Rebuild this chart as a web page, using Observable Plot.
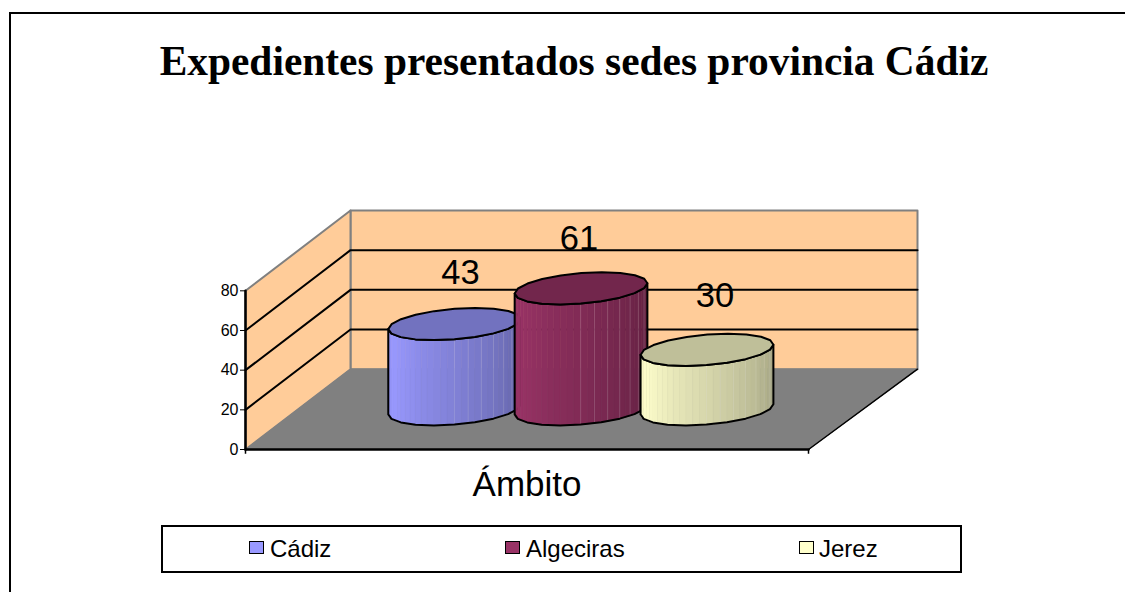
<!DOCTYPE html>
<html><head><meta charset="utf-8">
<script src="https://cdn.jsdelivr.net/npm/d3@7"></script>
<script src="https://cdn.jsdelivr.net/npm/@observablehq/plot@0.6"></script>
<style>
html,body{margin:0;padding:0;background:#fff;}
#page{position:relative;width:1125px;height:592px;overflow:hidden;}
#frame{position:absolute;left:9px;top:12px;width:1116px;height:580px;border-left:2px solid #000;border-top:2px solid #000;box-sizing:border-box;}
#title{position:absolute;left:0;top:37px;width:1148px;text-align:center;font:bold 41.4px "Liberation Serif",serif;color:#000;margin:0;}
#legend{position:absolute;left:161px;top:525px;width:801px;height:48px;border:2px solid #000;box-sizing:border-box;background:#fff;font:24px "Liberation Sans",sans-serif;color:#000;}
#legend i{position:absolute;top:14px;width:13px;height:11px;border:1.5px solid #000;display:block;}
#legend span{position:absolute;top:8px;white-space:nowrap;}
svg{position:absolute;left:0;top:0;}
</style></head><body>
<div id="page"><div id="frame"></div><h1 id="title"></h1><div id="chart"></div><div id="legend"></div></div>
<script>
const chartTitle = "Expedientes presentados sedes provincia Cádiz";
const categoryLabel = "Ámbito";
const seriesNames = ["Cádiz", "Algeciras", "Jerez"];
const seriesValues = [43, 61, 30];
const yTicks = [0, 20, 40, 60, 80];
const seriesColors = ["#9999FF", "#993366", "#FFFFCC"];
const topColors = ["#7272BF", "#72264C", "#BFBF99"];

// oblique chart box, in scale units
const W = 563, Dx = 105, Dy = 40.5, vMax = 80, spread = 0.0071;
const P = (u, d, v) => ({x: u * (1 + spread * d) + Dx * d, y: v + Dy * d});
const poly = (pts) => [...pts, pts[0]];
const backWall = poly([P(0,1,0), P(W,1,0), P(W,1,vMax), P(0,1,vMax)]);
const sideWall = poly([P(0,0,0), P(0,1,0), P(0,1,vMax), P(0,0,vMax)]);
const floor = poly([P(0,0,0), P(W,0,0), P(W,1,0), P(0,1,0)]);

const line = (pts, o) => Plot.line(pts, {x: "x", y: "y", ...o});
const marks = [
  line(backWall, {fill: "#FFCC99", stroke: "#808080", strokeWidth: 2}),
  line(sideWall, {fill: "#FFCC99", stroke: "#808080", strokeWidth: 2}),
  line(floor, {fill: "#808080", stroke: "#808080", strokeWidth: 1}),
  line([P(W,0,0), P(W,1,0)], {stroke: "#000", strokeWidth: 1.5}),
  line([P(0,0,0), P(W,0,0)], {stroke: "#000", strokeWidth: 2.5}),
  line([P(0,0,0), P(0,0,vMax)], {stroke: "#000", strokeWidth: 2.5}),
  Plot.ruleX([0, W], {x: d => d, y1: 0, y2: -2.4, stroke: "#000", strokeWidth: 1.5})
];
for (const v of yTicks.filter(t => t > 0 && t < vMax)) {
  marks.push(line([P(0,0,v), P(0,1,v), P(W,1,v)], {stroke: "#000", strokeWidth: 2}));
}

// cylinders
const rU = 62.6, rD = 0.2, baseD = 0.5, N = 30, facets = 20;
const centers = [W / 2 - 125.5, W / 2 + 0.5, W / 2 + 126];
const shade = (c, k) => { const r = d3.rgb(c); return d3.rgb(r.r*k, r.g*k, r.b*k).formatHex(); };
seriesValues.forEach((value, s) => {
  const u = centers[s];
  const ring = (v, t) => P(u + rU * Math.cos(t), baseD + rD * Math.sin(t), v);
  const tipAngle = Math.atan2(Dx * rD, rU);
  const ang = (i, n) => Math.PI + tipAngle + (Math.PI * i) / n;
  const strips = [];
  for (let i = 0; i < N; i++) {
    const k = (i + 0.5) / N;
    const c = shade(seriesColors[s], k < 0.12 ? 0.9 + k * 0.8 : 1 - (k - 0.12) * 0.42);
    for (const p of [ring(0, ang(i, N)), ring(0, ang(i + 1, N)), ring(value, ang(i + 1, N)), ring(value, ang(i, N)), ring(0, ang(i, N))]) {
      strips.push({...p, c, i});
    }
  }
  marks.push(Plot.line(strips, {x: "x", y: "y", z: "i", fill: "c", stroke: "c", strokeWidth: 0.6}));
  // faint facet seams on the shaded half
  for (let i = Math.floor(N * 0.5); i < N - 1; i += 2) {
    marks.push(line([ring(0, ang(i, N)), ring(value, ang(i, N))], {stroke: "#fff", strokeOpacity: 0.16, strokeWidth: 1}));
  }
  const side = [];
  for (let i = 0; i <= facets / 2; i++) side.push(ring(0, ang(i, facets / 2)));
  for (let i = facets / 2; i >= 0; i--) side.push(ring(value, ang(i, facets / 2)));
  marks.push(line(poly(side), {stroke: "#000", strokeWidth: 2}));
  const top = d3.range(facets).map(i => ring(value, ang(i, facets / 2)));
  marks.push(line(poly(top), {fill: topColors[s], stroke: "#000", strokeWidth: 2}));
});

// data labels
const labelNudge = [[6, -51], [-2, -49], [8, -54]];
seriesValues.forEach((value, s) => {
  const p = P(centers[s], baseD, value);
  marks.push(Plot.text([seriesValues[s]], {x: () => p.x, y: () => p.y, text: d => String(d), dx: labelNudge[s][0], dy: labelNudge[s][1], fontSize: 34.5, fill: "#000", fontFamily: "Liberation Sans"}));
});
marks.push(Plot.text([categoryLabel], {x: () => W / 2, y: () => 0, text: d => d, dy: 35, fontSize: 35, fill: "#000", fontFamily: "Liberation Sans"}));
marks.push(Plot.axisY({ticks: yTicks, tickSize: 5, tickPadding: 2, fontSize: 16, label: null, fontFamily: "Liberation Sans", tickFormat: d => d, color:"#000"}));

const chart = Plot.plot({
  width: 1125, height: 592,
  marginLeft: 245, marginRight: 208, marginTop: 210, marginBottom: 143,
  x: {domain: [0, W * (1 + spread) + Dx], axis: null},
  y: {domain: [0, vMax + Dy], grid: false},
  style: {background: "transparent", overflow: "visible"},
  marks
});
document.getElementById("chart").append(chart);
document.getElementById("title").textContent = chartTitle;
const leg = document.getElementById("legend");
const swatchX = [86, 342, 636], textX = [107, 363, 656];
seriesNames.forEach((n, i) => {
  const sw = document.createElement("i");
  sw.style.left = swatchX[i] + "px"; sw.style.background = seriesColors[i];
  const t = document.createElement("span");
  t.style.left = textX[i] + "px"; t.textContent = n;
  leg.append(sw, t);
});
</script></body></html>
